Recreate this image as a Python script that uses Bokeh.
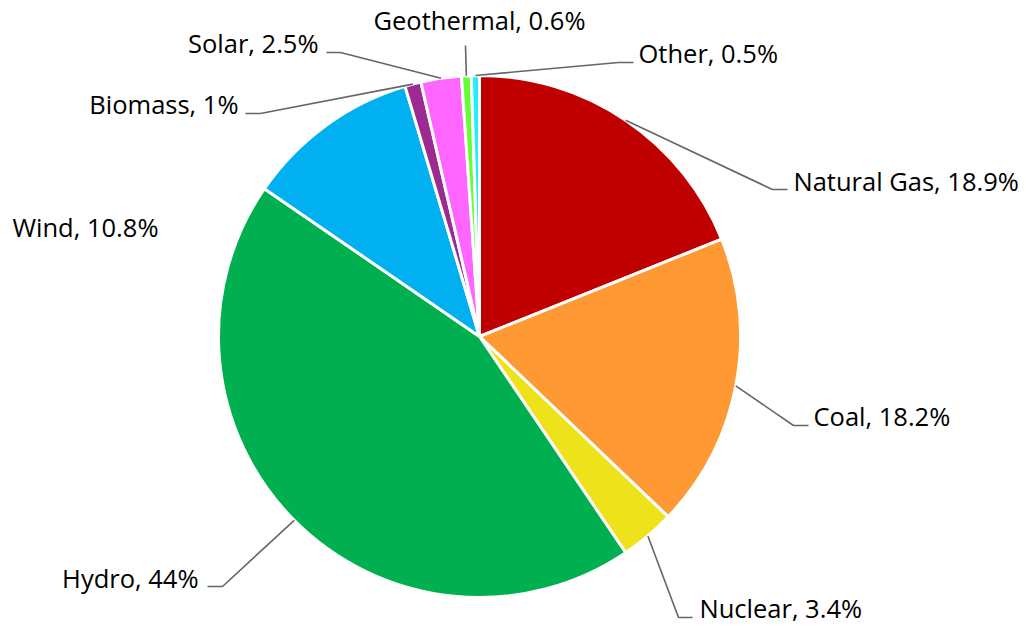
import math
from bokeh.plotting import figure
from bokeh.models import Range1d, ColumnDataSource
from bokeh.core.properties import value
from bokeh.embed import file_html
from bokeh.resources import INLINE

# ---- data ----
categories = ["Natural Gas", "Coal", "Nuclear", "Hydro", "Wind",
              "Biomass", "Solar", "Geothermal", "Other"]
shares = [18.9, 18.2, 3.4, 44, 10.8, 1, 2.5, 0.6, 0.5]
share_labels = ["18.9%", "18.2%", "3.4%", "44%", "10.8%", "1%", "2.5%", "0.6%", "0.5%"]
colors = ["#C00000", "#FF9933", "#EEE21A", "#00B050", "#00B0F0",
          "#9C2A93", "#FF66FF", "#66FF33", "#22F0F8"]

# ---- layout (picture pixel coordinates) ----
W, H = 1026, 626
def px(X):
    return X
def py(Y):
    return H - Y

cx, cy, R = 479, 336, 261
# label baseline anchor (px), alignment, elbow points of leader (px)
label_pos = [(793, 190), (813, 425), (699, 617), (198, 587), (12, 236),
             (238, 113), (318, 52), (479, 29), (638, 62)]
label_shift = 10  # renderer places alphabetic baseline lower than requested
label_align = ["left", "left", "left", "right", "left",
               "right", "right", "center", "left"]
leader_pts = [
    [(772, 189), (787, 189)],
    [(793, 425), (808, 425)],
    [(678, 617), (692, 617)],
    [(222, 586), (207, 586)],
    None,
    [(260, 113), (245, 113)],
    [(340, 52), (326, 52)],
    [(465, 45)],
    [(618, 62), (633, 62)],
]

p = figure(width=W, height=H, output_backend="svg", toolbar_location=None,
           x_range=Range1d(0, W), y_range=Range1d(0, H), min_border=0)
p.axis.visible = False
p.grid.visible = False
p.outline_line_color = None
p.background_fill_color = "white"

total = sum(shares)
starts, ends, mids = [], [], []
cum = 0.0
for v in shares:
    a0 = math.pi / 2 - 2 * math.pi * cum / total
    cum += v
    a1 = math.pi / 2 - 2 * math.pi * cum / total
    starts.append(a0)
    ends.append(a1)
    mids.append((a0 + a1) / 2)

src = ColumnDataSource(dict(start=starts, end=ends, color=colors, cat=categories))
p.wedge(x=px(cx), y=py(cy), radius=R, start_angle="start", end_angle="end",
        direction="clock", fill_color="color", line_color="white", line_width=3,
        source=src)

# leader lines
for i, pts in enumerate(leader_pts):
    if pts is None:
        continue
    sx = px(cx) + R * math.cos(mids[i])
    sy = py(cy) + R * math.sin(mids[i])
    xs = [sx] + [px(a) for a, b in pts]
    ys = [sy] + [py(b) for a, b in pts]
    p.line(xs, ys, line_color="#666666", line_width=1.6)

# labels
texts = [f"{c}, {s}" for c, s in zip(categories, share_labels)]
for i, t in enumerate(texts):
    X, Y = label_pos[i]
    p.text(x=[px(X)], y=[py(Y - label_shift)], text=[t], text_align=label_align[i],
           text_baseline="alphabetic", text_font=value("Open Sans"),
           text_font_size="25.5px", text_color="#000000")

open("out.html", "w").write(file_html(p, INLINE))
